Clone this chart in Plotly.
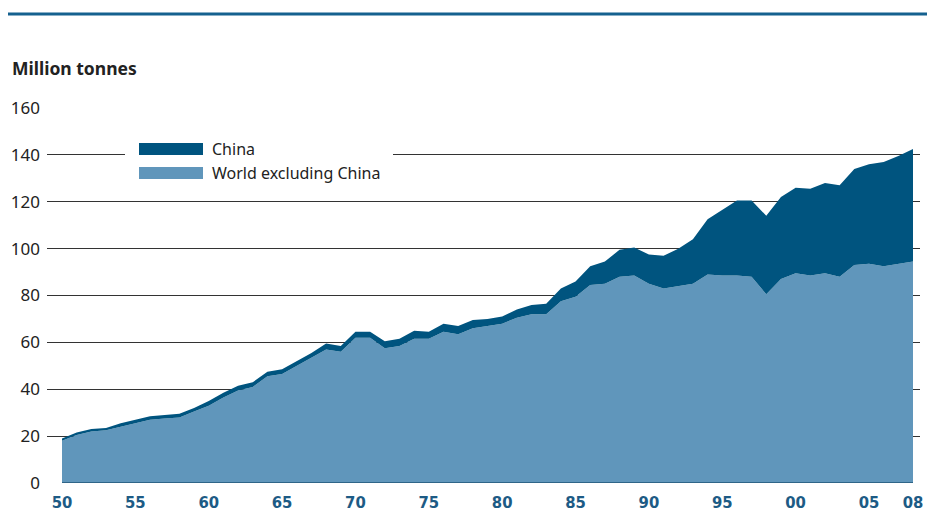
import plotly.graph_objects as go

years = list(range(1950, 2009))

total = [19, 21.5, 23, 23.5, 25.5, 27, 28.5, 29, 29.5, 32,
         35, 38.5, 41.5, 43, 47.5, 48.5, 52, 55.5, 59.5, 58.5,
         64.5, 64.5, 60.5, 61.5, 65, 64.5, 68, 67, 69.5, 70,
         71, 74, 76, 76.5, 83, 86, 92.5, 94.5, 99.5, 100.5,
         97.5, 97, 100, 104, 112.5, 116.5, 120.5, 120.5, 114, 122,
         126, 125.5, 128, 127, 134, 136, 137, 139.5, 142.5]

world_ex_china = [18, 20.5, 22, 22.5, 24, 25.5, 27, 27.5, 28, 30.5,
                  33, 36.5, 39.5, 41, 45.5, 46.5, 50, 53.5, 57, 56,
                  62, 62, 57.5, 58.5, 61.5, 61.5, 64.5, 63.5, 66, 67,
                  68, 70.5, 72, 72, 77.5, 79.5, 84.5, 85, 88, 88.5,
                  85, 83, 84, 85, 89, 88.5, 88.5, 88, 80.5, 87,
                  89.5, 88.5, 89.5, 88, 93, 93.5, 92.5, 93.5, 94.5]

china = [round(t - w, 2) for t, w in zip(total, world_ex_china)]

x_tickvals = [1950, 1955, 1960, 1965, 1970, 1975, 1980, 1985, 1990, 1995, 2000, 2005, 2008]
x_ticktext = ["50", "55", "60", "65", "70", "75", "80", "85", "90", "95", "00", "05", "08"]
y_tickvals = [0, 20, 40, 60, 80, 100, 120, 140, 160]

legend_labels = ["China", "World excluding China"]

DARK = "#00547f"
LIGHT = "#6096bb"
TEXT = "#222222"
TICKBLUE = "#1d5b85"

# page offset of the plot div (body margin)
OFF = 8
W, H = 935 - OFF, 514 - OFF
# target pixel geometry (window coordinates)
PLOT_LEFT, PLOT_RIGHT, PLOT_TOP, PLOT_BOTTOM = 47, 920, 108, 483
L = PLOT_LEFT - OFF
T = PLOT_TOP - OFF
R = W - (PLOT_RIGHT - OFF)
B = H - (PLOT_BOTTOM - OFF)
PW = PLOT_RIGHT - PLOT_LEFT
PH = PLOT_BOTTOM - PLOT_TOP


def px(xp):
    return (xp - PLOT_LEFT) / PW


def py(yp):
    return (PLOT_BOTTOM - yp) / PH


fig = go.Figure()
fig.add_trace(go.Scatter(x=years, y=world_ex_china, stackgroup="one", mode="lines",
                         line=dict(width=0, color=LIGHT), fillcolor=LIGHT,
                         name=legend_labels[1], showlegend=False))
fig.add_trace(go.Scatter(x=years, y=china, stackgroup="one", mode="lines",
                         line=dict(width=0, color=DARK), fillcolor=DARK,
                         name=legend_labels[0], showlegend=False))

px_per_year = (913 - 62) / (years[-1] - years[0])
x0 = years[0] - (62 - PLOT_LEFT) / px_per_year
x1 = years[-1] + (PLOT_RIGHT - 913) / px_per_year

shapes = [
    dict(type="rect", xref="paper", yref="paper", x0=px(125), x1=px(393), y0=py(187), y1=py(135),
         fillcolor="white", line=dict(width=0), layer="above"),
    dict(type="rect", xref="paper", yref="paper", x0=px(139), x1=px(203), y0=py(155), y1=py(143),
         fillcolor=DARK, line=dict(width=0), layer="above"),
    dict(type="rect", xref="paper", yref="paper", x0=px(139), x1=px(203), y0=py(179), y1=py(167),
         fillcolor=LIGHT, line=dict(width=0), layer="above"),
    dict(type="line", xref="x", yref="y", x0=years[0], x1=years[-1], y0=0, y1=0,
         line=dict(color="#1f5577", width=1.5), layer="above"),
    dict(type="line", xref="paper", yref="paper", x0=px(8), x1=px(940), y0=py(14), y1=py(14),
         line=dict(color="#15618f", width=3), layer="above"),
]

annotations = [
    dict(text="<b>Million tonnes</b>", xref="paper", yref="paper", x=px(10), y=py(68),
         xanchor="left", yanchor="middle", showarrow=False,
         font=dict(size=17.5, color=TEXT, family="Noto Sans")),
    dict(text=legend_labels[0], xref="paper", yref="paper", x=px(210), y=py(149),
         xanchor="left", yanchor="middle", showarrow=False,
         font=dict(size=16, color=TEXT, family="Noto Sans")),
    dict(text=legend_labels[1], xref="paper", yref="paper", x=px(210), y=py(173),
         xanchor="left", yanchor="middle", showarrow=False,
         font=dict(size=16, color=TEXT, family="Noto Sans")),
]

fig.update_layout(
    width=W, height=H,
    margin=dict(l=L, r=R, t=T, b=B, pad=0, autoexpand=False),
    paper_bgcolor="white", plot_bgcolor="white",
    showlegend=False,
    shapes=shapes, annotations=annotations,
    xaxis=dict(range=[x0, x1], tickvals=x_tickvals, ticktext=x_ticktext,
               showgrid=False, zeroline=False, showline=False, ticks="", automargin=False,
               tickfont=dict(size=16.5, color=TICKBLUE,
                             family="Liberation Sans Narrow, DejaVu Sans Condensed", weight="bold"),
               ticklabelstandoff=7),
    yaxis=dict(range=[0, 160], tickvals=y_tickvals, showgrid=True, gridcolor="#333333", gridwidth=1,
               zeroline=False, showline=False, ticks="", automargin=False,
               tickfont=dict(size=17, color=TEXT, family="Noto Sans"),
               ticklabelstandoff=6),
)

fig.write_html("out.html")
